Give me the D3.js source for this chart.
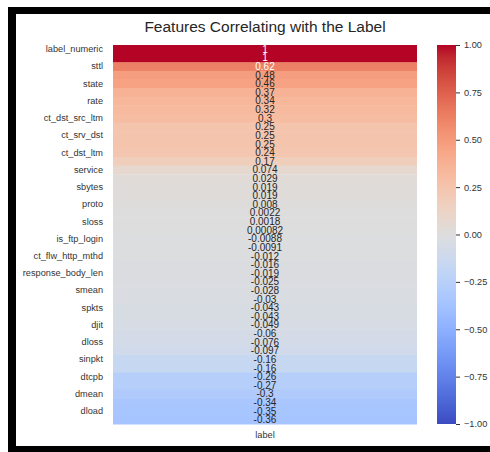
<!DOCTYPE html>
<html>
<head>
<meta charset="utf-8">
<script src="https://cdn.jsdelivr.net/npm/d3@7"></script>
<style>
  html, body { margin: 0; padding: 0; background: #fff; }
  svg { display: block; font-family: "Liberation Sans", Arial, sans-serif; }
</style>
</head>
<body>
<svg id="chart" width="490" height="452"></svg>
<script>
// Correlation of each feature with the "label" column, sorted descending
const rowValues = [
  1, 1, 0.62, 0.48, 0.46, 0.37, 0.34, 0.32, 0.3, 0.25, 0.25, 0.25, 0.24, 0.17,
  0.074, 0.029, 0.019, 0.019, 0.008, 0.0022, 0.0018, 0.00082,
  -0.0088, -0.0091, -0.012, -0.016, -0.019, -0.025, -0.028, -0.03,
  -0.043, -0.043, -0.049, -0.06, -0.076, -0.097, -0.16, -0.16,
  -0.26, -0.27, -0.3, -0.34, -0.35, -0.36
];

// Row tick labels (one per every other row)
const rowTickLabels = [
  "label_numeric", "sttl", "state", "rate", "ct_dst_src_ltm", "ct_srv_dst",
  "ct_dst_ltm", "service", "sbytes", "proto", "sloss", "is_ftp_login",
  "ct_flw_http_mthd", "response_body_len", "smean", "spkts", "djit",
  "dloss", "sinpkt", "dtcpb", "dmean", "dload"
];

const columnLabels = ["label"];
const colorbarTicks = [1, 0.75, 0.5, 0.25, 0, -0.25, -0.5, -0.75, -1];
const titleText = "Features Correlating with the Label";

// Diverging cool-warm palette (blue -> grey -> red)
const coolwarmStops = [
  [59,76,192],[68,90,204],[77,104,215],[87,117,225],[98,130,234],[108,142,241],
  [119,154,247],[130,165,251],[141,176,254],[152,185,255],[163,194,255],
  [174,201,253],[184,208,249],[194,213,244],[204,217,238],[213,219,230],
  [221,221,221],[229,216,209],[236,211,197],[241,204,185],[245,196,173],
  [247,187,160],[247,177,148],[247,166,135],[244,154,123],[241,141,111],
  [236,127,99],[229,112,88],[222,96,77],[213,80,66],[203,62,56],[192,40,47],
  [180,4,38]
].map(c => d3.rgb(c[0], c[1], c[2]).toString());

const color = d3.scaleSequential(d3.piecewise(d3.interpolateRgb, coolwarmStops))
  .domain([-1, 1]);

const svg = d3.select("#chart");

// Frame
svg.append("rect").attr("x", 0).attr("y", 0).attr("width", 490).attr("height", 452).attr("fill", "#fff");
svg.append("rect").attr("x", 8).attr("y", 7).attr("width", 482).attr("height", 7).attr("fill", "#000");
svg.append("rect").attr("x", 8).attr("y", 7).attr("width", 8).attr("height", 445).attr("fill", "#000");
svg.append("rect").attr("x", 8).attr("y", 446).attr("width", 482).attr("height", 6).attr("fill", "#000");

const plotTop = 45, plotBottom = 424, plotLeft = 113, plotRight = 417;

const x = d3.scaleBand().domain(columnLabels).range([plotLeft, plotRight]);
const y = d3.scaleBand().domain(d3.range(rowValues.length)).range([plotTop, plotBottom]);

// Cells
svg.append("g").selectAll("rect")
  .data(rowValues)
  .join("rect")
  .attr("x", x("label"))
  .attr("y", (d, i) => y(i))
  .attr("width", x.bandwidth())
  .attr("height", y.bandwidth() + 0.5)
  .attr("fill", d => color(d));

// Annotations
function textColor(v) {
  const c = d3.rgb(color(v));
  const lin = ch => { ch /= 255; return ch <= 0.03928 ? ch / 12.92 : Math.pow((ch + 0.055) / 1.055, 2.4); };
  const lum = 0.2126 * lin(c.r) + 0.7152 * lin(c.g) + 0.0722 * lin(c.b);
  return lum > 0.408 ? "#262626" : "#ffffff";
}
svg.append("g").selectAll("text")
  .data(rowValues)
  .join("text")
  .attr("x", x("label") + x.bandwidth() / 2)
  .attr("y", (d, i) => y(i) + y.bandwidth() / 2)
  .attr("text-anchor", "middle")
  .attr("dominant-baseline", "central")
  .attr("font-size", 10)
  .attr("fill", d => textColor(d))
  .text(d => String(d));

// Row axis
const yAxis = d3.axisLeft(y)
  .tickValues(d3.range(0, rowValues.length, 2))
  .tickFormat(i => rowTickLabels[i / 2])
  .tickSize(0)
  .tickPadding(10);
const gy = svg.append("g").attr("transform", `translate(${plotLeft},0)`).call(yAxis);
gy.select(".domain").remove();
gy.selectAll("text").attr("font-size", 9.2).attr("fill", "#333").style("font-family", "Liberation Sans, Arial, sans-serif");

// Column axis
const xAxis = d3.axisBottom(x).tickSize(0).tickPadding(7.5);
const gx = svg.append("g").attr("transform", `translate(0,${plotBottom})`).call(xAxis);
gx.select(".domain").remove();
gx.selectAll("text").attr("font-size", 9.2).attr("fill", "#333").style("font-family", "Liberation Sans, Arial, sans-serif");

// Title
svg.append("text")
  .attr("x", (plotLeft + plotRight) / 2)
  .attr("y", 32)
  .attr("text-anchor", "middle")
  .attr("font-size", 15.5)
  .attr("fill", "#262626")
  .text(titleText);

// Colorbar
const cbLeft = 437, cbWidth = 19;
const cb = d3.scaleLinear().domain([-1, 1]).range([plotBottom, plotTop]);
const defs = svg.append("defs");
const grad = defs.append("linearGradient")
  .attr("id", "cbGrad")
  .attr("x1", 0).attr("y1", 1).attr("x2", 0).attr("y2", 0);
grad.selectAll("stop")
  .data(d3.range(0, 1.0001, 1 / 64))
  .join("stop")
  .attr("offset", t => t)
  .attr("stop-color", t => color(-1 + 2 * t));
svg.append("rect")
  .attr("x", cbLeft).attr("y", plotTop)
  .attr("width", cbWidth).attr("height", plotBottom - plotTop)
  .attr("fill", "url(#cbGrad)");

const cbAxis = d3.axisRight(cb)
  .tickValues(colorbarTicks)
  .tickFormat(d3.format(".2f"))
  .tickSize(4)
  .tickPadding(4);
const gc = svg.append("g").attr("transform", `translate(${cbLeft + cbWidth},0)`).call(cbAxis);
gc.select(".domain").remove();
gc.selectAll("line").attr("stroke", "#333");
gc.selectAll("text").attr("font-size", 9.2).attr("fill", "#333").style("font-family", "Liberation Sans, Arial, sans-serif");
</script>
</body>
</html>
